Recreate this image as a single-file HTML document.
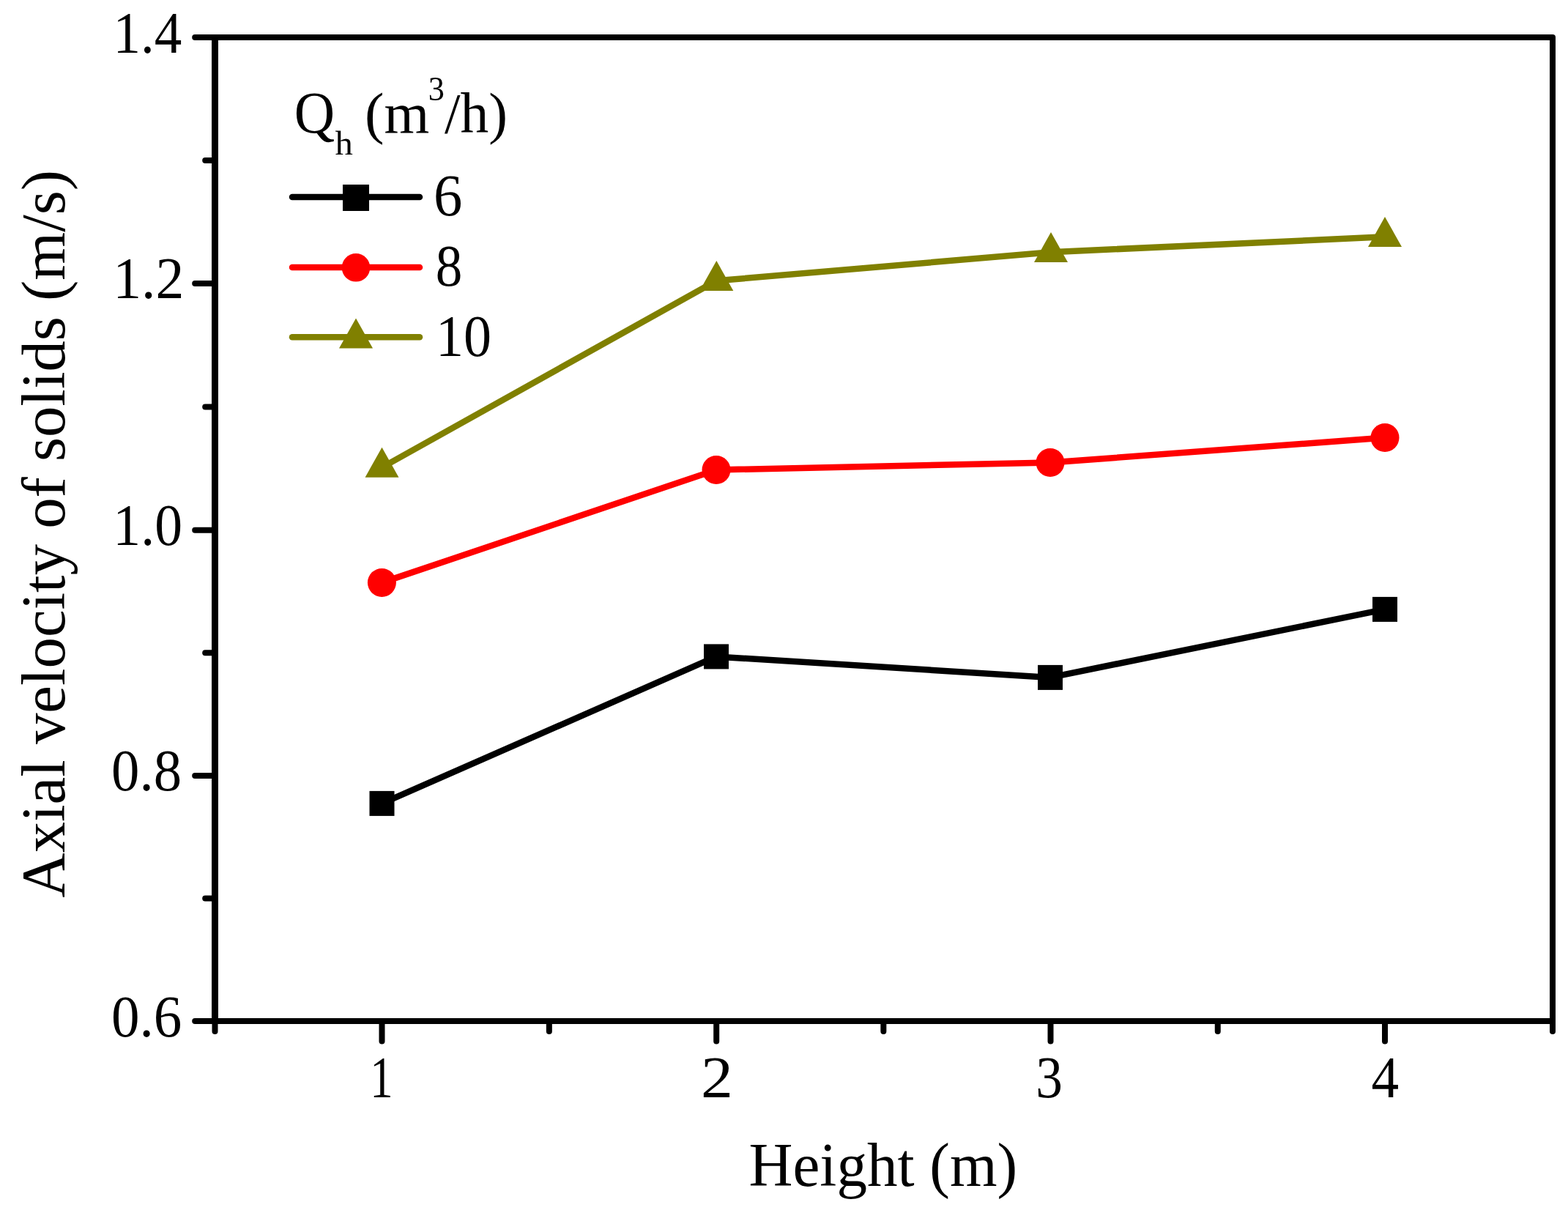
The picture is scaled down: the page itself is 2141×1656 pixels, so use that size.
<!DOCTYPE html>
<html><head><meta charset="utf-8"><title>Axial velocity of solids vs height</title>
<style>html,body{margin:0;padding:0;background:#fff;overflow:hidden}svg{display:block}</style>
</head><body>
<svg width="2141" height="1656" viewBox="0 0 2141 1656">
<rect x="0" y="0" width="2141" height="1656" fill="#fff"/>
<g stroke="#000" stroke-width="8" fill="none" stroke-linecap="round">
<line x1="291" y1="51.0" x2="266.2" y2="51.0"/>
<line x1="291" y1="387.0" x2="266.2" y2="387.0"/>
<line x1="291" y1="723.8" x2="266.2" y2="723.8"/>
<line x1="291" y1="1058.9" x2="266.2" y2="1058.9"/>
<line x1="291" y1="1394.0" x2="266.2" y2="1394.0"/>
<line x1="291" y1="219.00" x2="280.2" y2="219.00"/>
<line x1="291" y1="555.40" x2="280.2" y2="555.40"/>
<line x1="291" y1="891.35" x2="280.2" y2="891.35"/>
<line x1="291" y1="1226.45" x2="280.2" y2="1226.45"/>
<line x1="521.5" y1="1396" x2="521.5" y2="1421.5"/>
<line x1="978.2" y1="1396" x2="978.2" y2="1421.5"/>
<line x1="1434.5" y1="1396" x2="1434.5" y2="1421.5"/>
<line x1="1891.0" y1="1396" x2="1891.0" y2="1421.5"/>
<line x1="293.50" y1="1396" x2="293.50" y2="1408"/>
<line x1="749.85" y1="1396" x2="749.85" y2="1408"/>
<line x1="1206.35" y1="1396" x2="1206.35" y2="1408"/>
<line x1="1662.75" y1="1396" x2="1662.75" y2="1408"/>
<line x1="2120.00" y1="1396" x2="2120.00" y2="1408"/>
</g>
<g fill="#000">
<rect x="289" y="47" width="9" height="1351"/>
<rect x="289" y="47" width="1831" height="8"/>
<rect x="2116" y="51" width="8" height="1347"/>
<rect x="289" y="1390" width="1835" height="8"/>
<path d="M2116 47 L2120 47 A4 4 0 0 1 2124 51 L2116 51 Z"/>
</g>
<polyline points="521.5,1096.9 978.0,896.4 1434.0,924.9 1891.0,831.9" fill="none" stroke="#000" stroke-width="8.5" stroke-linejoin="round" stroke-linecap="round"/>
<rect x="504.5" y="1079.9" width="34.0" height="34.0" fill="#000"/>
<rect x="961.0" y="879.4" width="34.0" height="34.0" fill="#000"/>
<rect x="1417.0" y="907.9" width="34.0" height="34.0" fill="#000"/>
<rect x="1874.0" y="814.9" width="34.0" height="34.0" fill="#000"/>
<polyline points="521.4,795.4 978.0,641.5 1434.0,631.5 1891.0,597.5" fill="none" stroke="#f00" stroke-width="8.5" stroke-linejoin="round" stroke-linecap="round"/>
<circle cx="521.4" cy="795.4" r="19.5" fill="#f00"/>
<circle cx="978.0" cy="641.5" r="19.5" fill="#f00"/>
<circle cx="1434.0" cy="631.5" r="19.5" fill="#f00"/>
<circle cx="1891.0" cy="597.5" r="19.5" fill="#f00"/>
<polyline points="521.5,638.1 978.3,383.3 1435.0,344.2 1891.0,323.3" fill="none" stroke="#808000" stroke-width="8.5" stroke-linejoin="round" stroke-linecap="round"/>
<path d="M521.5 610.8 L544.5 651.8 L498.5 651.8 Z" fill="#808000"/>
<path d="M978.3 356.0 L1001.3 397.0 L955.3 397.0 Z" fill="#808000"/>
<path d="M1435.0 316.9 L1458.0 357.9 L1412.0 357.9 Z" fill="#808000"/>
<path d="M1891.0 296.0 L1914.0 337.0 L1868.0 337.0 Z" fill="#808000"/>
<line x1="399" y1="269" x2="573" y2="269" stroke="#000" stroke-width="8.5" stroke-linecap="round"/>
<rect x="468" y="252" width="36" height="36" fill="#000"/>
<line x1="399" y1="365" x2="573" y2="365" stroke="#f00" stroke-width="8.5" stroke-linecap="round"/>
<circle cx="486" cy="365.3" r="19.3" fill="#f00"/>
<line x1="399" y1="460.3" x2="573" y2="460.3" stroke="#808000" stroke-width="8.5" stroke-linecap="round"/>
<path d="M486.0 434.6 L509.0 475.6 L463.0 475.6 Z" fill="#808000"/>
<g font-family="Liberation Serif, Times New Roman, serif" fill="#000">
<text transform="translate(154.41 71.90) scale(0.9326 1)" font-size="80.44">1.4</text>
<text transform="translate(154.17 407.00) scale(0.9688 1)" font-size="80.20">1.2</text>
<text transform="translate(154.35 743.90) scale(0.9500 1)" font-size="79.69">1.0</text>
<text transform="translate(152.08 1078.90) scale(0.9631 1)" font-size="79.69">0.8</text>
<text transform="translate(152.06 1415.20) scale(0.9598 1)" font-size="80.30">0.6</text>
<text transform="translate(505.28 1498.00) scale(0.7819 1)" font-size="80.28">1</text>
<text transform="translate(956.94 1497.90) scale(1.0949 1)" font-size="80.20">2</text>
<text transform="translate(1414.29 1498.00) scale(0.9129 1)" font-size="80.35">3</text>
<text transform="translate(1872.53 1497.90) scale(0.9333 1)" font-size="80.67">4</text>
<text transform="translate(592.12 294.00) scale(0.9825 1)" font-size="80.05">6</text>
<text transform="translate(594.81 390.20) scale(0.9109 1)" font-size="80.30">8</text>
<text transform="translate(595.01 486.00) scale(0.9476 1)" font-size="80.30">10</text>
<text id="xt" transform="translate(1022.51 1619.30) scale(0.9718 1)" font-size="85.47">Height (m)</text>
<text transform="translate(401.86 181.00) scale(0.9576 1)" font-size="80.05">Q</text>
<text transform="translate(457.43 210.90) scale(1.0256 1)" font-size="47.42">h</text>
<text transform="translate(498.01 181.00) scale(1.0057 1)" font-size="78.98">(m</text>
<text transform="translate(584.68 137.40) scale(0.9649 1)" font-size="45.91">3</text>
<text transform="translate(607.10 181.00) scale(0.9767 1)" font-size="79.27">/h)</text>
<text transform="translate(87.80 1225.53) rotate(-90) scale(1.0134 1)" font-size="83.65">Axial velocity of solids (m/s)</text>
</g>
</svg>
</body></html>
